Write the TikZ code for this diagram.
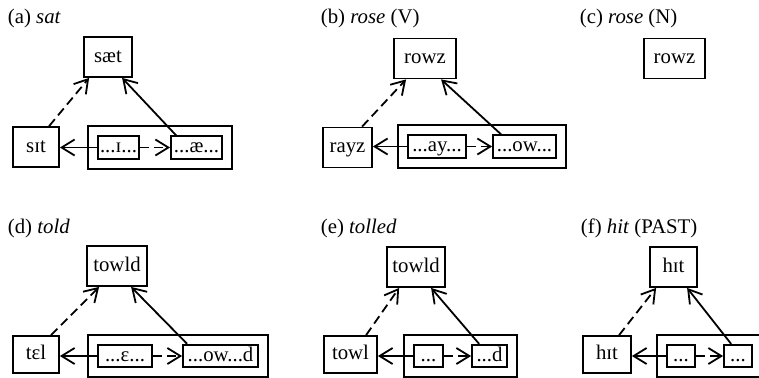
\documentclass[tikz,border=0pt]{standalone}
\usepackage{fontspec}
\setmainfont{Liberation Serif}
\usetikzlibrary{arrows.meta, positioning, fit, calc}

\begin{document}
\begin{tikzpicture}[
    x=0.5pt, y=-0.5pt,
    font=\fontsize{10.4}{12}\selectfont,
    line width=0.9pt,
    >={Straight Barb[length=6.5pt,width=8pt]},
    form/.style={rectangle, draw=black, minimum height=20pt, inner sep=1pt, text height=0.7em, text depth=0.2em},
    lowform/.style={form, minimum height=18.5pt},
    part/.style={rectangle, draw=black, minimum height=11.25pt, inner sep=1pt, text height=0.7em, text depth=0.2em},
    group/.style={rectangle, draw=black, inner sep=4.5pt},
    link/.style={dash pattern=on 4.5pt off 2.5pt},
    caption/.style={anchor=west, inner sep=0pt}
]
    \useasboundingbox (0,0) rectangle (759,377);

    % (a) sat
    \node[caption] (capA) at (7,18) {(a) \textit{sat}};
    \node[form, minimum width=24pt] (satA) at (108,57) {sæt};
    \node[form, minimum width=23pt] (sitA) at (36,147) {sɪt};
    \node[part, minimum width=20.5pt] (iA) at (118.5,147.5) {...ɪ...};
    \node[part, minimum width=25.5pt] (aeA) at (196.5,147.5) {...æ...};
    \node[group, fit=(iA) (aeA)] (grpA) {};
    \draw[->] (iA.west) -- (iA.west -| sitA.east);
    \draw[->, link] (iA) -- (aeA);
    \draw[->, link] ($(sitA.north west)+(37,0)$) -- ($(satA.south west)+(6,0)$);
    \draw[->] ($(aeA.north west)+(6,0)$) -- ($(satA.south west)+(39,0)$);

    % (b) rose (V)
    \node[caption] (capB) at (320,18) {(b) \textit{rose} (V)};
    \node[form, minimum width=31pt] (rowzB) at (425,58.5) {rowz};
    \node[form, minimum width=24.5pt] (rayzB) at (347.5,147.5) {rayz};
    \node[part, minimum width=29pt] (ayB) at (437,146.5) {...ay...};
    \node[part, minimum width=31.5pt] (owB) at (524.5,146.5) {...ow...};
    \node[group, fit=(ayB) (owB)] (grpB) {};
    \draw[->] (ayB.west) -- (ayB.west -| rayzB.east);
    \draw[->, link] (ayB) -- (owB);
    \draw[->, link] ($(rayzB.north west)+(40,0)$) -- ($(rowzB.south west)+(13,0)$);
    \draw[->] ($(owB.north west)+(9,0)$) -- ($(rowzB.south west)+(48,0)$);

    % (c) rose (N)
    \node[caption] (capC) at (579,18) {(c) \textit{rose} (N)};
    \node[form, minimum width=30.5pt] (rowzC) at (674.5,58.5) {rowz};

    % (d) told
    \node[caption] (capD) at (7,228) {(d) \textit{told}};
    \node[form, minimum width=30pt] (towldD) at (117,266) {towld};
    \node[lowform, minimum width=23pt] (telD) at (36,354.5) {tɛl};
    \node[part, minimum width=27pt] (epsD) at (125,356) {...ɛ...};
    \node[part, minimum width=37.5pt] (owdD) at (220.5,356) {...ow...d};
    \node[group, fit=(epsD) (owdD)] (grpD) {};
    \draw[->] (epsD.west) -- (epsD.west -| telD.east);
    \draw[->, link] (epsD) -- (owdD);
    \draw[->, link] ($(telD.north west)+(39,0)$) -- ($(towldD.south west)+(13,0)$);
    \draw[->] ($(owdD.north west)+(5,0)$) -- ($(towldD.south west)+(45,0)$);

    % (e) tolled
    \node[caption] (capE) at (320,228) {(e) \textit{tolled}};
    \node[form, minimum width=29pt] (towldE) at (416,267) {towld};
    \node[lowform, minimum width=26.5pt] (towlE) at (350.5,354.5) {towl};
    \node[part, minimum width=14.5pt] (dotsE) at (428.5,356) {...};
    \node[part, minimum width=17.5pt] (dE) at (489.5,356) {...d};
    \node[group, fit=(dotsE) (dE)] (grpE) {};
    \draw[->] (dotsE.west) -- (dotsE.west -| towlE.east);
    \draw[->, link] (dotsE) -- (dE);
    \draw[->, link] ($(towlE.north west)+(43,0)$) -- ($(towldE.south west)+(13,0)$);
    \draw[->] ($(dE.north west)+(8,0)$) -- ($(towldE.south west)+(45,0)$);

    % (f) hit (PAST)
    \node[caption] (capF) at (580,228) {(f) \textit{hit} (PAST)};
    \node[form, minimum width=23.5pt] (hitF) at (673.5,267) {hɪt};
    \node[lowform, minimum width=24pt] (hitlowF) at (607,354.5) {hɪt};
    \node[part, minimum width=14pt] (dotsF) at (681,356) {...};
    \node[part, minimum width=14pt] (dotsendF) at (738,356) {...};
    \node[group, fit=(dotsF) (dotsendF)] (grpF) {};
    \draw[->] (dotsF.west) -- (dotsF.west -| hitlowF.east);
    \draw[->, link] (dotsF) -- (dotsendF);
    \draw[->, link] ($(hitlowF.north west)+(37,0)$) -- ($(hitF.south west)+(7,0)$);
    \draw[->] ($(dotsendF.north west)+(8,0)$) -- ($(hitF.south west)+(38,0)$);
\end{tikzpicture}
\end{document}
